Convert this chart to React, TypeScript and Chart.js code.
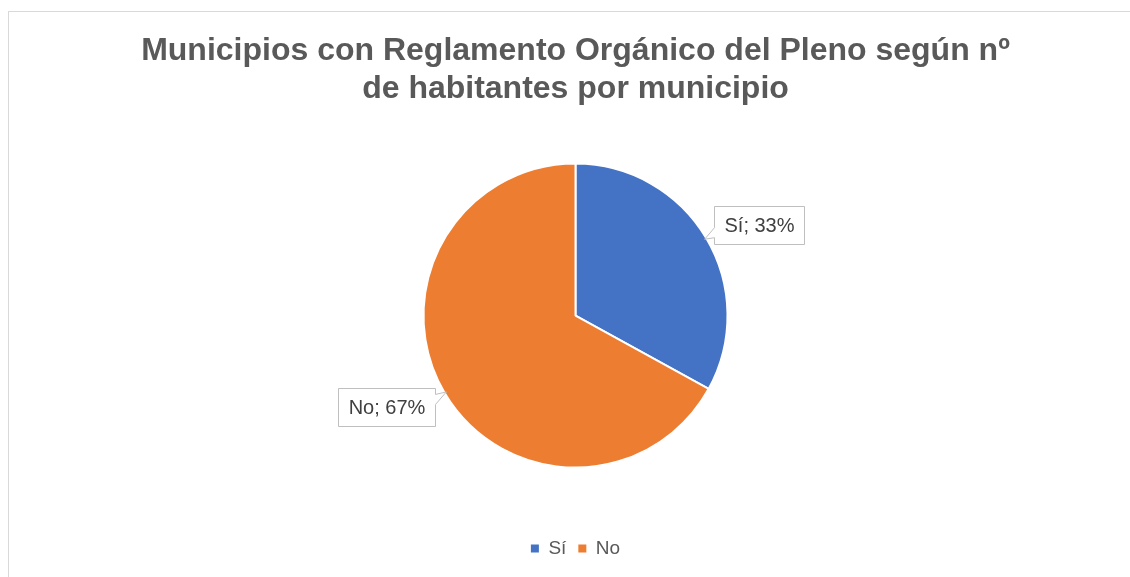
import React, { useEffect, useRef } from "react";
import { Chart, registerables } from "chart.js";

Chart.register(...registerables);

const categories = ["Sí", "No"];
const values = [33, 67];
const percentLabels = ["33%", "67%"];
const titleLines = [
  "Municipios con Reglamento Orgánico del Pleno según nº",
  "de habitantes por municipio",
];
const colors = ["#4472C4", "#ED7D31"];

const calloutPlugin = {
  id: "callouts",
  afterDatasetsDraw(chart: any) {
    const ctx = chart.ctx;
    const meta = chart.getDatasetMeta(0);
    ctx.save();
    ctx.font = "20px 'Liberation Sans', Arial, sans-serif";
    meta.data.forEach((arc: any, i: number) => {
      const p = arc.getProps(["x", "y", "startAngle", "endAngle", "outerRadius"], true);
      const mid = (p.startAngle + p.endAngle) / 2;
      const dx = Math.cos(mid);
      const dy = Math.sin(mid);
      const tipX = p.x + dx * (p.outerRadius - 2);
      const tipY = p.y + dy * (p.outerRadius - 2);
      const text = categories[i] + "; " + percentLabels[i];
      const tw = ctx.measureText(text).width;
      const w = Math.round(tw + 20);
      const h = 38;
      const right = dx > 0;
      const left = right ? Math.round(tipX + 9) : Math.round(tipX - 11 - w);
      const cy = tipY + (dy < 0 ? -14 : 15);
      const top = Math.round(cy - h / 2);
      const bottom = top + h;
      const rgt = left + w;
      ctx.beginPath();
      if (right) {
        const b1 = Math.min(Math.max(tipY - 12, top + 2), bottom - 12);
        const b2 = b1 + 10;
        ctx.moveTo(left + 0.5, top + 0.5);
        ctx.lineTo(rgt + 0.5, top + 0.5);
        ctx.lineTo(rgt + 0.5, bottom + 0.5);
        ctx.lineTo(left + 0.5, bottom + 0.5);
        ctx.lineTo(left + 0.5, b2 + 0.5);
        ctx.lineTo(tipX, tipY);
        ctx.lineTo(left + 0.5, b1 + 0.5);
        ctx.closePath();
      } else {
        const b1 = Math.min(Math.max(tipY + 2, top + 2), bottom - 12);
        const b2 = b1 + 10;
        ctx.moveTo(left + 0.5, top + 0.5);
        ctx.lineTo(rgt + 0.5, top + 0.5);
        ctx.lineTo(rgt + 0.5, b1 + 0.5);
        ctx.lineTo(tipX, tipY);
        ctx.lineTo(rgt + 0.5, b2 + 0.5);
        ctx.lineTo(rgt + 0.5, bottom + 0.5);
        ctx.lineTo(left + 0.5, bottom + 0.5);
        ctx.closePath();
      }
      ctx.fillStyle = "#ffffff";
      ctx.fill();
      ctx.strokeStyle = "#bfbfbf";
      ctx.lineWidth = 1;
      ctx.stroke();
      ctx.fillStyle = "#404040";
      ctx.textAlign = "center";
      ctx.textBaseline = "middle";
      ctx.fillText(text, left + w / 2 + 0.5, top + h / 2 + 1);
    });
    ctx.restore();
  },
};

export default function App() {
  const ref = useRef<HTMLCanvasElement | null>(null);
  useEffect(() => {
    if (!ref.current) return;
    const chart = new Chart(ref.current, {
      type: "pie",
      data: {
        labels: categories,
        datasets: [
          {
            data: values,
            backgroundColor: colors,
            borderColor: "#ffffff",
            borderWidth: 2,
          },
        ],
      },
      options: {
        responsive: false,
        animation: false,
        radius: 152,
        layout: { padding: { top: 0, bottom: 9, left: 0, right: 0 } },
        plugins: {
          title: {
            display: true,
            text: titleLines,
            color: "#595959",
            font: { family: "'Liberation Sans', Arial, sans-serif", size: 32, weight: "bold", lineHeight: 1.19 },
            padding: { top: 20, bottom: -4 },
          },
          legend: {
            position: "bottom",
            labels: {
              color: "#595959",
              boxWidth: 8,
              boxHeight: 8,
              font: { family: "'Liberation Sans', Arial, sans-serif", size: 19 },
              padding: 12,
              generateLabels(chart: any) {
                const items = (Chart as any).overrides.pie.plugins.legend.labels.generateLabels(chart);
                return items.map((it: any) => ({ ...it, lineWidth: 0, strokeStyle: it.fillStyle }));
              },
            },
          },
          tooltip: { enabled: false },
        },
      } as any,
      plugins: [calloutPlugin],
    });
    return () => chart.destroy();
  }, []);
  return (
    <div
      style={{
        position: "absolute",
        left: 8,
        top: 11,
        width: 1122,
        height: 566,
        borderLeft: "1px solid #d9d9d9",
        borderTop: "1px solid #d9d9d9",
        boxSizing: "border-box",
        overflow: "hidden",
        background: "#fff",
      }}
    >
      <canvas ref={ref} width={1133} height={565} style={{ display: "block" }} />
    </div>
  );
}
